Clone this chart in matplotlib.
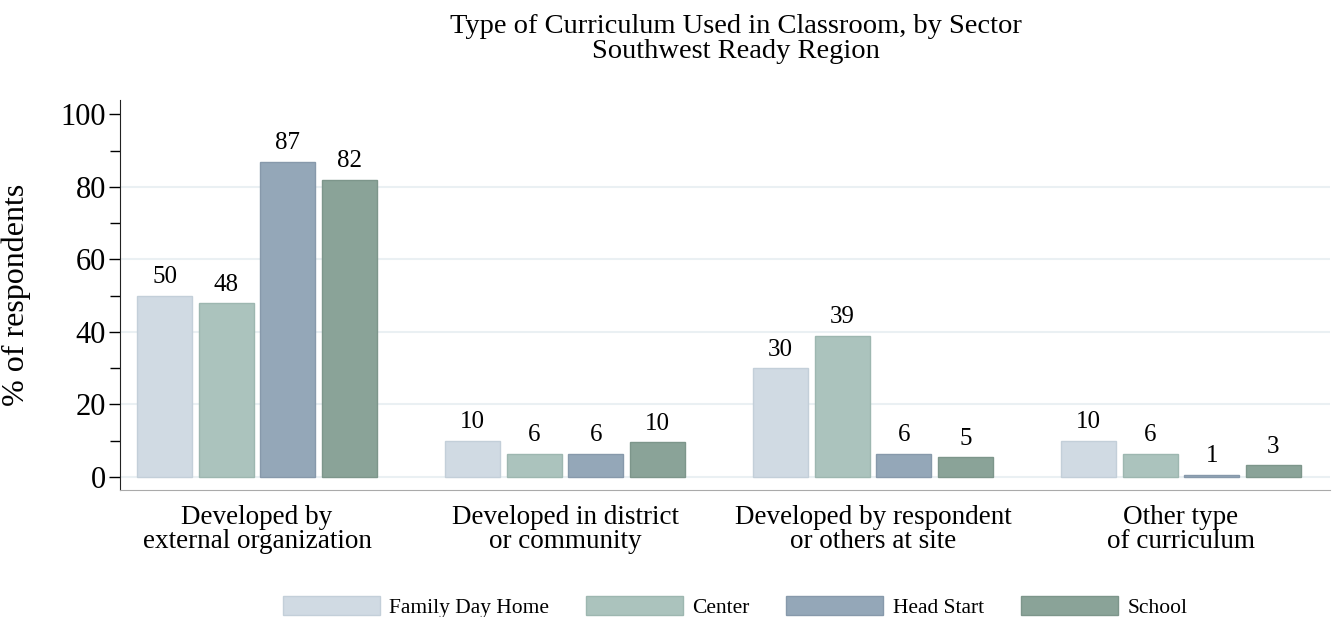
import numpy as np
import matplotlib.pyplot as plt
from matplotlib.ticker import MultipleLocator

plt.rcParams['font.family'] = ['Liberation Serif', 'DejaVu Serif']

## data
categories = ["Developed by\nexternal organization", "Developed in district\nor community",
              "Developed by respondent\nor others at site", "Other type\nof curriculum"]
sectors = ["Family Day Home", "Center", "Head Start", "School"]
family_day_home = [50, 10, 30, 10]
center = [48, 6.4, 39, 6.4]
head_start = [87, 6.4, 6.4, 0.6]
school = [82, 9.6, 5.4, 3.2]
colors = ["#d0dae3", "#abc3bd", "#94a7b8", "#8aa398"]
edges = ["#c3cfd9", "#9db7b0", "#8799ab", "#7d968b"]

fig = plt.figure(figsize=(13.43, 6.17), dpi=100)
ax = fig.add_axes([0.0894, 0.206, 0.901, 0.632])

x = np.arange(len(categories))
width = 0.179
step = 0.2
series = [family_day_home, center, head_start, school]
for i, vals in enumerate(series):
    pos = x + (i - 1.5) * step
    bars = ax.bar(pos, vals, width, color=colors[i], edgecolor=edges[i], linewidth=1,
                  label=sectors[i], zorder=3)
    for b, v in zip(bars, vals):
        ax.text(b.get_x() + b.get_width() / 2, v + 2.0, "%.0f" % v,
                ha='center', va='bottom', fontsize=18, zorder=4)

ax.set_xlim(-0.445, 3.484)
ax.set_ylim(-3.6, 104)
ax.set_yticks([0, 20, 40, 60, 80, 100])
ax.yaxis.set_minor_locator(MultipleLocator(10))
ax.tick_params(axis='y', which='major', labelsize=22, length=8, width=1, pad=2)
ax.tick_params(axis='y', which='minor', length=7, width=1)
ax.set_xticks(x)
ax.set_xticklabels(categories, fontsize=19.5, linespacing=0.95)
ax.tick_params(axis='x', length=0, pad=11)

for yv in [0, 20, 40, 60, 80]:
    ax.axhline(yv, color="#eaf0f3", linewidth=1.5, zorder=1)

ax.spines['top'].set_visible(False)
ax.spines['right'].set_visible(False)
ax.spines['bottom'].set_color("#aaaaaa")
ax.spines['left'].set_color("#222222")
ax.set_ylabel("% of respondents", fontsize=23)
ax.yaxis.set_label_coords(-0.074, 0.5)

fig.text(736 / 1343, 1 - 39 / 617, "Type of Curriculum Used in Classroom, by Sector\nSouthwest Ready Region",
         ha='center', va='center', fontsize=20.5, linespacing=1.0)

fig.legend(loc='center', bbox_to_anchor=(735 / 1343, 1 - 607 / 617), ncol=4, frameon=False,
           fontsize=15.5, handlelength=4.5, handleheight=1.0, handletextpad=0.45, columnspacing=1.7)

plt.savefig("out.png", dpi=100)
